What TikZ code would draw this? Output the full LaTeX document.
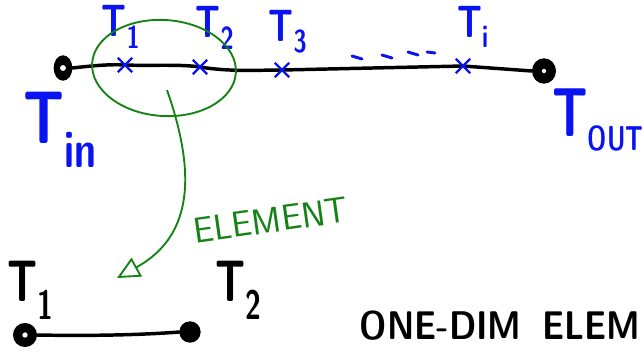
\documentclass[tikz,border=0pt]{standalone}
\usetikzlibrary{shapes.misc,shapes.geometric,arrows.meta}
\newcommand\fsz[1]{\fontsize{#1}{#1}\selectfont}
\newcommand\narrow[2]{\scalebox{#1}[1]{#2}}
\definecolor{penblue}{RGB}{10,20,240}
\definecolor{pengreen}{RGB}{20,130,20}
\begin{document}
\begin{tikzpicture}[x=0.75pt,y=-0.75pt,
  endpt/.style={ellipse,draw=black,fill=black,line width=2pt,inner sep=0pt},
  xmark/.style={cross out,draw=penblue,line width=1.8pt,minimum size=9pt,inner sep=0pt},
  bluelbl/.style={text=penblue,inner sep=0pt},
  wire/.style={line width=2.6pt,line cap=round},
  greenpen/.style={draw=pengreen,line width=1.4pt}]
\useasboundingbox (0,0) rectangle (642,351);
% main bar
\node[endpt,minimum width=12pt,minimum height=17pt] (tinpt) at (63,68) {};
\node[endpt,minimum width=16pt,minimum height=17pt] (toutpt) at (544,71) {};
\fill[white] (tinpt.center) circle (2.2pt);
\fill[white] (toutpt.center) circle (1.6pt);
\coordinate (c1) at (125,65);
\coordinate (c2) at (200,67);
\coordinate (c3) at (282,70);
\coordinate (ci) at (463,66);
\draw[wire] (tinpt.east) .. controls (90,66) and (110,64) .. (c1)
  .. controls (150,66) and (180,64) .. (c2)
  .. controls (230,72) and (260,70) .. (c3)
  -- (ci) -- (toutpt.west);
\node[xmark] (x1) at (c1) {};
\node[xmark] (x2) at (c2) {};
\node[xmark] (x3) at (c3) {};
\node[xmark] (xi) at (ci) {};
\foreach \a/\b/\c/\d in {352/56/362/59, 382/55/392/58, 408/52/418/55, 427/52/435/53}
  \draw[penblue,line width=2.2pt,line cap=round] (\a,\b) -- (\c,\d);
% labels top
\node[bluelbl,font=\sffamily\bfseries\fsz{34}] (lt1) at (121,27) {\narrow{0.75}{T\textsubscript{1}}};
\node[bluelbl,font=\sffamily\bfseries\fsz{34}] (lt2) at (215,28) {\narrow{0.75}{T\textsubscript{2}}};
\node[bluelbl,font=\sffamily\bfseries\fsz{34}] (lt3) at (288,32) {\narrow{0.75}{T\textsubscript{3}}};
\node[bluelbl,font=\sffamily\bfseries\fsz{34}] (lti) at (473,27) {\narrow{0.75}{T\textsubscript{i}}};
\node[bluelbl,font=\sffamily\bfseries\fsz{56}] (ltin) at (60,130) {\narrow{0.75}{T\textsubscript{in}}};
\node[bluelbl,font=\sffamily\bfseries\fsz{52}] (ltout) at (598,120) {\narrow{0.7}{T\textsubscript{\fsz{26}OUT}}};
% element highlight
\node[greenpen,ellipse,minimum width=108pt,minimum height=72pt,rotate=-4] (elem) at (164,68) {};
\coordinate (astart) at (167,90);
\coordinate (atip) at (117,278);
\draw[greenpen,-{Triangle[open,length=17pt,width=16pt,line width=1.4pt]}]
  (astart) .. controls (195,170) and (195,235) .. (atip);
\node[text=pengreen,font=\sffamily\fsz{27},rotate=8] (eltxt) at (271,220) {ELEMENT};
% bottom element
\node[circle,draw=black,fill=black,line width=2pt,minimum size=16pt,inner sep=0pt] (b1) at (25,335) {};
\node[circle,draw=black,fill=black,line width=2pt,minimum size=14pt,inner sep=0pt] (b2) at (190,332) {};
\fill[white] (b1.center) circle (2pt);
\draw[wire] (b1.east) .. controls (90,336) and (140,335) .. (b2.west);
\node[font=\sffamily\bfseries\fsz{44},inner sep=0pt] (bt1) at (31,290) {\narrow{0.7}{T\textsubscript{1}}};
\node[font=\sffamily\bfseries\fsz{44},inner sep=0pt] (bt2) at (239,290) {\narrow{0.7}{T\textsubscript{2}}};
\node[font=\sffamily\bfseries\fsz{30},inner sep=0pt] (title) at (500,326) {\narrow{0.86}{ONE-DIM\hspace{0.6em}ELEM}};
\end{tikzpicture}
\end{document}
